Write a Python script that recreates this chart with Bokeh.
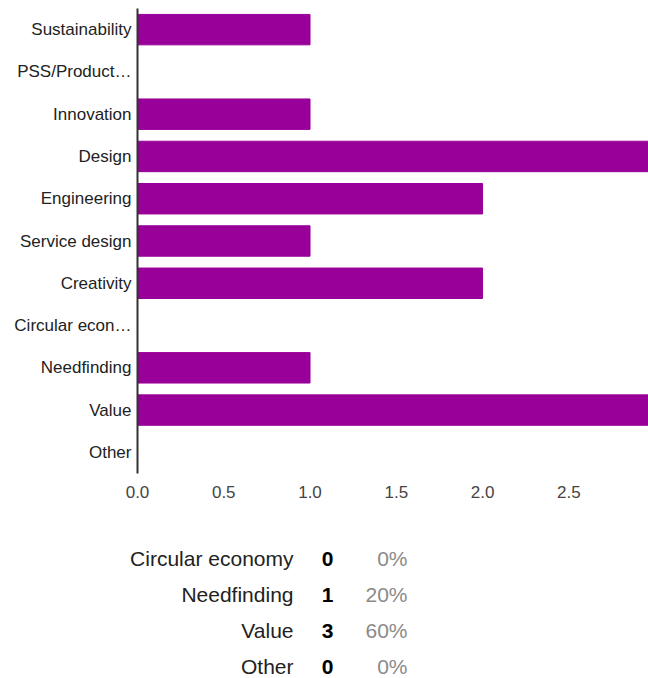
from bokeh.plotting import figure
from bokeh.models import Range1d, FactorRange, ColumnDataSource, FixedTicker, CustomJSTickFormatter
from bokeh.layouts import column
from bokeh.core.properties import value
from bokeh.embed import file_html
from bokeh.resources import INLINE

categories = ["Sustainability", "PSS/Product…", "Innovation", "Design", "Engineering",
              "Service design", "Creativity", "Circular econ…", "Needfinding", "Value", "Other"]
counts = [1, 0, 1, 3, 2, 1, 2, 0, 1, 3, 0]
x_ticks = [0.0, 0.5, 1.0, 1.5, 2.0, 2.5]

table_names = ["Circular economy", "Needfinding", "Value", "Other"]
table_counts = ["0", "1", "3", "0"]
table_pcts = ["0%", "20%", "60%", "0%"]

FONT = "Liberation Sans"
BAR = "#990099"
H1 = 513
H2 = 678 - H1

p = figure(width=648, height=H1, output_backend="svg", toolbar_location=None,
           y_range=FactorRange(factors=list(reversed(categories)), range_padding=0),
           x_range=Range1d(0, 2.962),
           min_border_left=137, min_border_right=0, min_border_top=8, min_border_bottom=40)
p.frame_align = False
p.outline_line_color = None
p.xgrid.visible = False
p.ygrid.visible = False

src = ColumnDataSource(dict(cat=categories, val=counts))
p.hbar(y="cat", right="val", left=0, height=0.72, source=src, color=BAR)

p.xaxis.ticker = FixedTicker(ticks=x_ticks)
p.xaxis.formatter = CustomJSTickFormatter(code="return tick.toFixed(1);")
p.xaxis.axis_line_color = None
p.xaxis.major_tick_line_color = None
p.xaxis.major_tick_out = 0
p.xaxis.minor_tick_line_color = None
p.xaxis.major_label_standoff = 12
p.xaxis.major_label_text_font = FONT
p.xaxis.major_label_text_font_size = "17px"
p.xaxis.major_label_text_color = "#444444"

p.yaxis.axis_line_color = "#333333"
p.yaxis.axis_line_width = 2
p.yaxis.major_tick_line_color = None
p.yaxis.major_tick_out = 0
p.yaxis.minor_tick_line_color = None
p.yaxis.major_label_standoff = 6
p.yaxis.major_label_text_font = FONT
p.yaxis.major_label_text_font_size = "17px"
p.yaxis.major_label_text_color = "#222222"

# summary table below the chart; x range spans the full width in pixels
q = figure(width=648, height=H2, output_backend="svg", toolbar_location=None,
           x_range=Range1d(0, 648), y_range=Range1d((H2 - 45) / 36.0, -45 / 36.0),
           min_border_left=0, min_border_right=0, min_border_top=0, min_border_bottom=0)
q.frame_align = False
q.outline_line_color = None
q.axis.visible = False
q.grid.visible = False

rows = list(range(len(table_names)))
n = len(rows)
tsrc = ColumnDataSource(dict(row=rows, name=table_names, cnt=table_counts, pct=table_pcts,
                             xn=[293] * n, xc=[327] * n, xp=[407] * n))
q.text(x="xn", y="row", text="name", source=tsrc, text_align="right", text_baseline="middle",
       text_font=value(FONT), text_font_size="21px", text_color="#222222")
q.text(x="xc", y="row", text="cnt", source=tsrc, text_align="center", text_baseline="middle",
       text_font=value(FONT), text_font_size="21px", text_font_style="bold", text_color="#000000")
q.text(x="xp", y="row", text="pct", source=tsrc, text_align="right", text_baseline="middle",
       text_font=value(FONT), text_font_size="21px", text_color="#8a8a8a")

layout = column(p, q, spacing=0)
open("out.html", "w").write(file_html(layout, INLINE))
